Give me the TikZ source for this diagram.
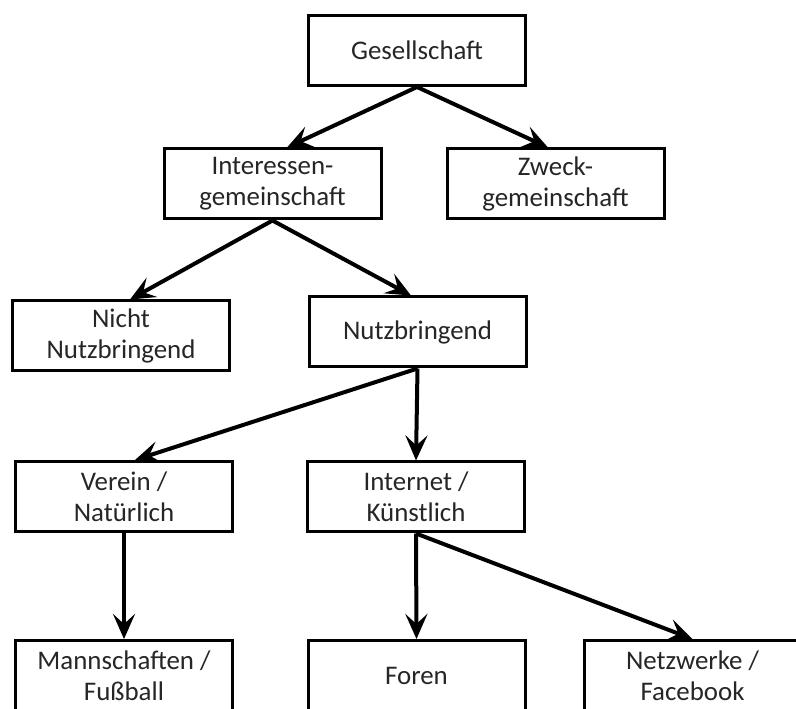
\documentclass[tikz,border=0pt]{standalone}
\usepackage{fontspec}
\setmainfont{Carlito}
\usetikzlibrary{arrows.meta}
\tikzset{
  kasten/.style={rectangle, draw=black, line width=0.06cm, fill=white, align=center,
                 minimum width=4.34cm, minimum height=1.40cm, inner sep=0pt,
                 font=\fontsize{15.3}{17.5}\selectfont, text=black!85},
  pfeil/.style={-{Stealth[length=0.5cm, width=0.44cm, inset=0.2cm]}, line width=0.08cm},
}
\begin{document}
\begin{tikzpicture}
        \useasboundingbox (0,0) rectangle (15.92,-14.18);
        \fill[white] (0,0) rectangle (15.92,-14.18);
        % Ebenen
        \node[kasten] (ges)  at (8.34,-1.01)  {Gesellschaft};
        \node[kasten] (int)  at (5.45,-3.68)  {Interessen-\\gemeinschaft};
        \node[kasten] (zwe)  at (11.11,-3.68) {Zweck-\\gemeinschaft};
        \node[kasten] (nic)  at (2.42,-6.72)  {Nicht\\Nutzbringend};
        \node[kasten] (nut)  at (8.35,-6.64)  {Nutzbringend};
        \node[kasten] (ver)  at (2.48,-9.93)  {Verein /\\Natürlich};
        \node[kasten] (inet) at (8.32,-9.94)  {Internet /\\Künstlich};
        \node[kasten] (man)  at (2.48,-13.51) {Mannschaften /\\Fußball};
        \node[kasten] (for)  at (8.33,-13.51) {Foren};
        \node[kasten] (net)  at (13.85,-13.51) {Netzwerke /\\Facebook};
        % Pfeile
        \draw[pfeil] (ges.south) -- ([xshift=0.29cm]int.north);
        \draw[pfeil] (ges.south) -- ([xshift=-0.15cm]zwe.north);
        \draw[pfeil] (int.south) -- ([xshift=0.18cm]nic.north);
        \draw[pfeil] (int.south) -- ([xshift=-0.13cm]nut.north);
        \draw[pfeil] (nut.south) -- ([xshift=0.22cm]ver.north);
        \draw[pfeil] (nut.south) -- (inet.north);
        \draw[pfeil] (ver.south) -- (man.north);
        \draw[pfeil] (inet.south) -- (for.north);
        \draw[pfeil] (inet.south) -- (net.north);
      \end{tikzpicture}
\end{document}
